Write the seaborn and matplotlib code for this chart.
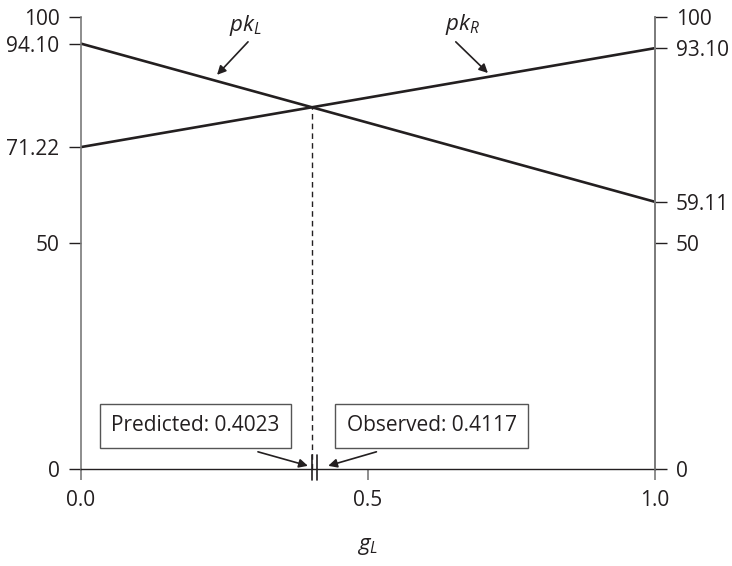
# Libraries
# ===================================================
import pandas as pd
import seaborn as sns
import matplotlib.pyplot as plt

# Data
# ===================================================
g_l = [0.0, 1.0]
pk_l = [94.10, 59.11]
pk_r = [71.22, 93.10]
predicted = 0.4023
observed = 0.4117

left_ticks = [0, 50, 71.22, 94.10, 100]
left_labels = ['0', '50', '71.22', '94.10', '100']
right_ticks = [0, 50, 59.11, 93.10, 100]
right_labels = ['0', '50', '59.11', '93.10', '100']
x_ticks = [0.0, 0.5, 1.0]
x_labels = ['0.0', '0.5', '1.0']

df = pd.DataFrame({
    'g': g_l + g_l,
    'pk': pk_l + pk_r,
    'series': ['pkL'] * 2 + ['pkR'] * 2,
})

# Intersection of the two lines (height of the dashed line)
slope_l = (pk_l[1] - pk_l[0]) / (g_l[1] - g_l[0])
y_cross = pk_l[0] + slope_l * predicted

# Style
# ===================================================
sns.set_style('white')
plt.rcParams['font.family'] = ['Open Sans', 'DejaVu Sans']
plt.rcParams['mathtext.fontset'] = 'custom'
plt.rcParams['mathtext.it'] = 'Open Sans:italic'
plt.rcParams['mathtext.rm'] = 'Open Sans'
ink = '#231f20'
grey = '#7a7a7a'
fs = 15

fig = plt.figure(figsize=(7.32, 5.66), dpi=100)
ax = fig.add_axes([0.1107, 0.1714, 0.784, 0.7986])

# Lines
sns.lineplot(data=df, x='g', y='pk', hue='series', palette=[ink, ink],
             linewidth=1.9, legend=False, ax=ax)

# Dashed vertical line from intersection to axis
ax.plot([predicted, predicted], [0, y_cross], color=ink, lw=1.0,
        linestyle=(0, (4, 3)))

# Predicted / observed markers crossing the axis
for v in [predicted, observed]:
    ax.plot([v, v], [-2.4, 3.1], color=ink, lw=1.2, clip_on=False)

ax.set_xlim(0, 1)
ax.set_ylim(0, 100)

# Axes styling
ax.spines['top'].set_visible(False)
ax.spines['left'].set_color(grey)
ax.spines['right'].set_color(grey)
ax.spines['left'].set_linewidth(1.2)
ax.spines['right'].set_linewidth(1.2)
ax.spines['bottom'].set_color(ink)
ax.spines['bottom'].set_linewidth(1.0)

ax.set_xticks(x_ticks)
ax.set_xticklabels(x_labels)
ax.set_yticks(left_ticks)
ax.set_yticklabels(left_labels)
ax.tick_params(axis='x', direction='out', length=8, width=1.2, color=grey,
               pad=7, labelsize=fs, labelcolor=ink, bottom=True)
ax.tick_params(axis='y', direction='out', length=8.5, width=1.0, color=ink,
               pad=7, labelsize=fs, labelcolor=ink, left=True)

ax2 = ax.twinx()
ax2.set_ylim(0, 100)
ax2.set_yticks(right_ticks)
ax2.set_yticklabels(right_labels)
ax2.tick_params(axis='y', direction='out', length=8.5, width=1.0, color=ink,
                pad=6.5, labelsize=fs, labelcolor=ink, right=True)
for s in ['top', 'left', 'bottom']:
    ax2.spines[s].set_visible(False)
ax2.spines['right'].set_color(grey)
ax2.spines['right'].set_linewidth(1.2)

ax.set_xlabel(r'$g_L$', fontsize=fs + 1, color=ink, labelpad=18)
ax.set_ylabel('')

# Curve labels with arrows
arrow = dict(arrowstyle='-|>', lw=1.2, color=ink, mutation_scale=13,
             shrinkA=0, shrinkB=0)
ax.annotate('', xy=(0.237, 87.2), xytext=(0.291, 94.5), arrowprops=arrow)
ax.text(0.286, 98.2, r'$pk_L$', fontsize=fs + 1, color=ink,
        ha='center', va='center')
ax.annotate('', xy=(0.709, 87.6), xytext=(0.653, 94.5), arrowprops=arrow)
ax.text(0.664, 98.4, r'$pk_R$', fontsize=fs + 1, color=ink,
        ha='center', va='center')

# Boxes with arrows pointing at the axis markers
box = dict(boxstyle='square,pad=0.55', fc='white', ec='#555555', lw=1.0)
ax.text(0.199, 9.6, f'Predicted: {predicted:.4f}', fontsize=fs, color=ink,
        ha='center', va='center', bbox=box)
ax.text(0.611, 9.6, f'Observed: {observed:.4f}', fontsize=fs, color=ink,
        ha='center', va='center', bbox=box)
ax.annotate('', xy=(predicted - 0.007, 0.7), xytext=(predicted - 0.094, 3.8),
            arrowprops=arrow)
ax.annotate('', xy=(observed + 0.019, 0.7), xytext=(observed + 0.103, 3.8),
            arrowprops=arrow)

plt.savefig('out.png', dpi=100)
